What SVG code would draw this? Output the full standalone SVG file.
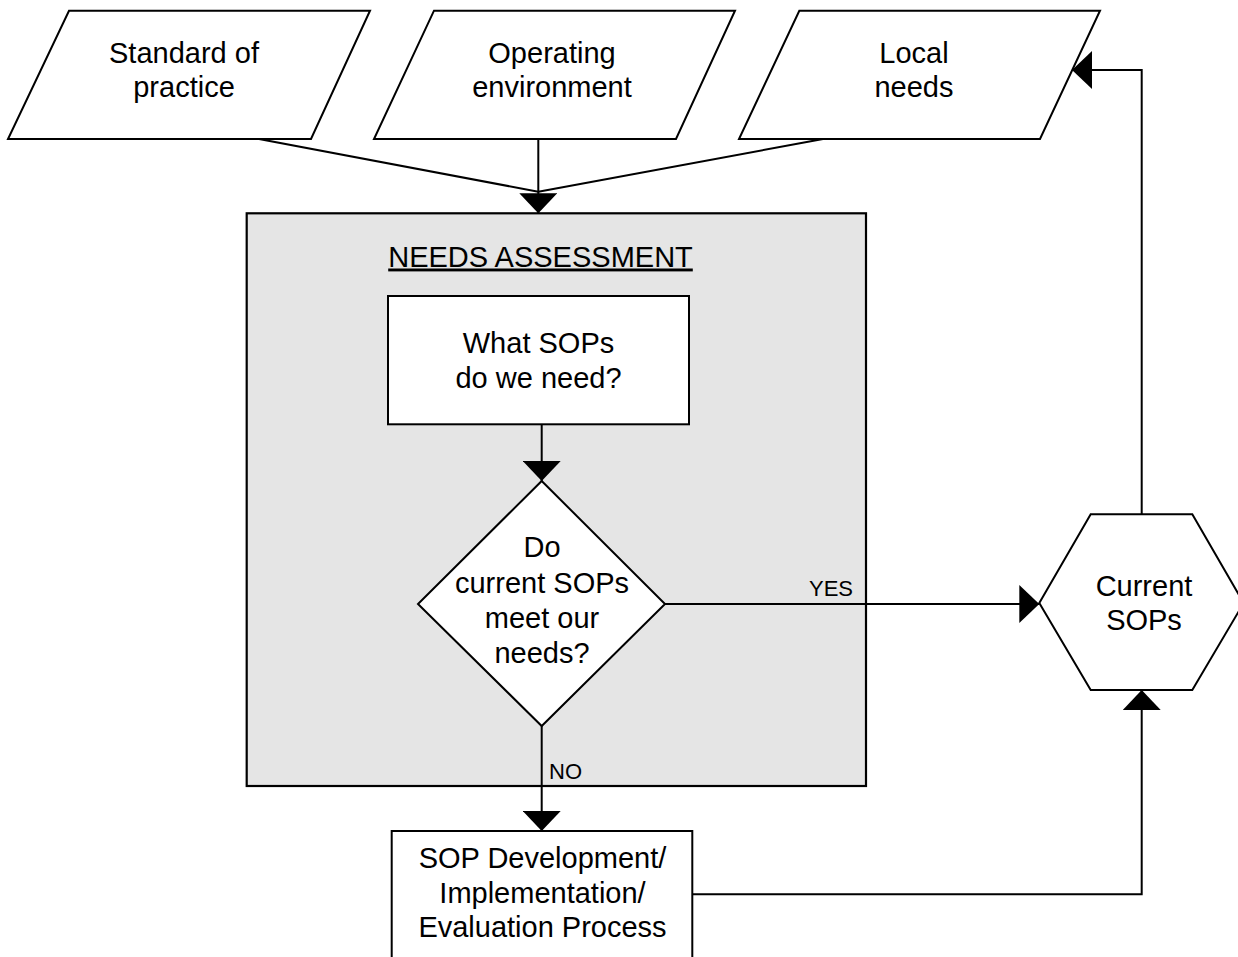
<svg xmlns="http://www.w3.org/2000/svg" width="1238" height="957" viewBox="0 0 1238 957">
<style>
.shape{fill:#ffffff;stroke:#000;stroke-width:2;}
.panel{fill:#e5e5e5;stroke:#000;stroke-width:2.2;}
.t{font-family:"Liberation Sans",Arial,Helvetica,sans-serif;font-size:29px;fill:#000;text-anchor:middle;}
.lbl{font-family:"Liberation Sans",Arial,Helvetica,sans-serif;font-size:22px;fill:#000;}
.c{fill:none;stroke:#000;stroke-width:2;}
</style>
<defs>
<marker id="arr" markerUnits="userSpaceOnUse" viewBox="0 0 20 38" refX="20" refY="19" markerWidth="20" markerHeight="38" orient="auto">
<path d="M0,0 L20,19 L0,38 Z" fill="#000"/>
</marker>
</defs>
<rect width="1238" height="957" fill="#fff"/>

<g id="needs-assessment">
<rect class="panel" x="246.7" y="213.3" width="619.3" height="572.7"/>
<text class="t" x="540.5" y="266.5" text-decoration="underline">NEEDS ASSESSMENT</text>
</g>

<g id="standard-of-practice">
<polygon class="shape" points="69,10.7 370,10.7 311,139 8,139"/>
<text class="t" x="184" y="63">Standard of</text>
<text class="t" x="184" y="97">practice</text>
</g>

<g id="operating-environment">
<polygon class="shape" points="434,10.7 735,10.7 676,139 374,139"/>
<text class="t" x="552" y="63">Operating</text>
<text class="t" x="552" y="97">environment</text>
</g>

<g id="local-needs">
<polygon class="shape" points="799.3,10.7 1100,10.7 1040,139 739,139"/>
<text class="t" x="914" y="63">Local</text>
<text class="t" x="914" y="97">needs</text>
</g>

<g id="what-sops">
<rect class="shape" x="388" y="296" width="301" height="128.3"/>
<text class="t" x="538.5" y="353">What SOPs</text>
<text class="t" x="538.5" y="388">do we need?</text>
</g>

<g id="decision">
<polygon class="shape" points="541.7,481 665,604 541.7,726 418,604"/>
<text class="t" x="542" y="557">Do</text>
<text class="t" x="542" y="593">current SOPs</text>
<text class="t" x="542" y="628">meet our</text>
<text class="t" x="542" y="663">needs?</text>
</g>

<g id="current-sops">
<polygon class="shape" points="1039.3,603 1090.7,514.3 1192.3,514.3 1243.7,603 1192.3,690 1090.7,690"/>
<text class="t" x="1144" y="596">Current</text>
<text class="t" x="1144" y="629.5">SOPs</text>
</g>

<g id="sop-development">
<rect class="shape" x="391.7" y="831" width="300.6" height="140"/>
<text class="t" x="542.5" y="868">SOP Development/</text>
<text class="t" x="542.5" y="902.5">Implementation/</text>
<text class="t" x="542.5" y="937">Evaluation Process</text>
</g>

<g id="connectors">
<line class="c" x1="259" y1="139" x2="538.3" y2="191.7"/>
<line class="c" x1="823" y1="139" x2="538.3" y2="191.7"/>
<line class="c" x1="538.3" y1="139" x2="538.3" y2="213.3" marker-end="url(#arr)"/>
<line class="c" x1="541.7" y1="424.3" x2="541.7" y2="481" marker-end="url(#arr)"/>
<line class="c" x1="665" y1="604" x2="1039.3" y2="604" marker-end="url(#arr)"/>
<text class="lbl" x="809" y="596">YES</text>
<line class="c" x1="541.7" y1="726" x2="541.7" y2="831" marker-end="url(#arr)"/>
<text class="lbl" x="549" y="779">NO</text>
<polyline class="c" points="692.3,894.3 1141.7,894.3 1141.7,690" marker-end="url(#arr)"/>
<polyline class="c" points="1141.7,514.3 1141.7,70 1072,70" marker-end="url(#arr)"/>
</g>
</svg>
